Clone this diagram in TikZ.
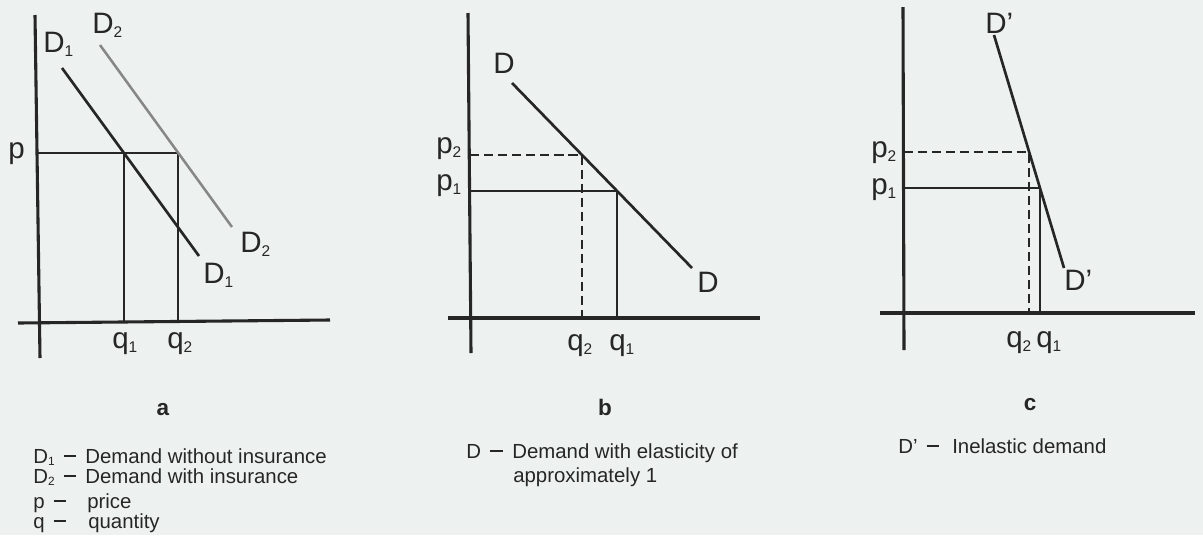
\documentclass[tikz,border=0pt]{standalone}
\usepackage{fontspec}
\setmainfont{Liberation Sans}
\usepackage{tikz}
\usetikzlibrary{positioning}

\definecolor{paper}{RGB}{237,241,240}
\definecolor{ink}{RGB}{38,38,38}
\definecolor{greyline}{RGB}{135,135,135}

\newcommand{\lowsub}[1]{\raisebox{-3pt}{\fontsize{11}{11}\selectfont #1}}
\newcommand{\keysub}[1]{\raisebox{-1.5pt}{\fontsize{8.5}{8.5}\selectfont #1}}
\newcommand{\keydash}{\hspace{0.45em}\rule[0.3em]{9pt}{0.07em}}

\begin{document}
\begin{tikzpicture}[x=0.025cm,y=-0.025cm]

\tikzset{
  axis/.style={draw=ink, line width=2.2pt},
  curve/.style={draw=ink, line width=1.9pt},
  shifted/.style={draw=greyline, line width=1.8pt},
  guide/.style={draw=ink, line width=1.7pt},
  guidedash/.style={draw=ink, line width=1.7pt, dash pattern=on 6.5pt off 3.5pt},
  axlabel/.style={font=\fontsize{21}{23}\selectfont, text=ink, inner sep=0pt, anchor=base west},
  panel/.style={font=\fontsize{16}{18}\selectfont\bfseries, text=ink, inner sep=0pt},
  legend/.style={font=\fontsize{14.5}{17}\selectfont, text=ink, inner sep=0pt, anchor=base west}
}

% Paper
\fill[paper] (0,0) rectangle (1203,535);
\useasboundingbox (0,0) rectangle (1203,535);

% ---------------- Panel a
\coordinate (aTop) at (35,15);
\coordinate (aBot) at (40,358);
\coordinate (aLeft) at (18,323);
\coordinate (aRight) at (330,320);
\coordinate (aP) at (37,153);
\coordinate (aQ1) at (124,153);
\coordinate (aQ2) at (178,153);
\coordinate (aQ1b) at (124,322);
\coordinate (aQ2b) at (178,321);
\coordinate (aD1s) at (62,68);
\coordinate (aD1e) at (199,256);
\coordinate (aD2s) at (100,45);
\coordinate (aD2e) at (232,227);

\draw[axis] (aTop) -- (aBot);
\draw[axis] (aLeft) -- (aRight);
\draw[guide] (aP) -- (aQ2) -- (aQ2b);
\draw[guide] (aQ1) -- (aQ1b);
\draw[shifted] (aD2s) -- (aD2e);
\draw[curve] (aD1s) -- (aD1e);

\node[axlabel] (aPl) at (8,158) {p};
\node[axlabel] (aD1t) at (43,52) {D\lowsub{1}};
\node[axlabel] (aD2t) at (92,33) {D\lowsub{2}};
\node[axlabel] (aD2b) at (240,252) {D\lowsub{2}};
\node[axlabel] (aD1b) at (203,283) {D\lowsub{1}};
\node[axlabel] (aQ1l) at (112,348) {q\lowsub{1}};
\node[axlabel] (aQ2l) at (167,348) {q\lowsub{2}};

% ---------------- Panel b
\coordinate (bTop) at (468,13);
\coordinate (bBot) at (471,353);
\coordinate (bLeft) at (448,318);
\coordinate (bRight) at (760,318);
\coordinate (bP2) at (470,155);
\coordinate (bP1) at (470,191);
\coordinate (bC2) at (582,155);
\coordinate (bC1) at (617,191);
\coordinate (bQ2) at (582,318);
\coordinate (bQ1) at (617,318);
\coordinate (bDs) at (512,83);
\coordinate (bDe) at (692,268);

\draw[axis] (bTop) -- (bBot);
\draw[axis] (bLeft) -- (bRight);
\draw[guidedash] (bP2) -- (bC2) -- (bQ2);
\draw[guide] (bP1) -- (bC1) -- (bQ1);
\draw[curve] (bDs) -- (bDe);

\node[axlabel] (bDt) at (493,73) {D};
\node[axlabel] (bDb) at (697,292) {D};
\node[axlabel] (bP2l) at (436,153) {p\lowsub{2}};
\node[axlabel] (bP1l) at (436,190) {p\lowsub{1}};
\node[axlabel] (bQ2l) at (567,350) {q\lowsub{2}};
\node[axlabel] (bQ1l) at (609,350) {q\lowsub{1}};

% ---------------- Panel c
\coordinate (cTop) at (903,7);
\coordinate (cBot) at (904,350);
\coordinate (cLeft) at (880,313);
\coordinate (cRight) at (1195,313);
\coordinate (cP2) at (904,152);
\coordinate (cP1) at (904,188);
\coordinate (cC2) at (1029,152);
\coordinate (cC1) at (1040,188);
\coordinate (cQ2) at (1029,313);
\coordinate (cQ1) at (1040,313);
\coordinate (cDs) at (994,35);
\coordinate (cDe) at (1064,268);

\draw[axis] (cTop) -- (cBot);
\draw[axis] (cLeft) -- (cRight);
\draw[guidedash] (cP2) -- (cC2) -- (cQ2);
\draw[guide] (cP1) -- (cC1) -- (cQ1);
\draw[curve] (cDs) -- (cDe);

\node[axlabel] (cDt) at (985,33) {D'};
\node[axlabel] (cDb) at (1064,290) {D'};
\node[axlabel] (cP2l) at (871,157) {p\lowsub{2}};
\node[axlabel] (cP1l) at (871,194) {p\lowsub{1}};
\node[axlabel] (cQ2l) at (1006,347) {q\lowsub{2}};
\node[axlabel] (cQ1l) at (1036,347) {q\lowsub{1}};

% Panel letters
\node[panel] (la) at (163,410) {a};
\node[panel] (lb) at (605,407) {b};
\node[panel] (lc) at (1030,405) {c};

% Keys
\node[legend] (kD1) at (33,463) {D\keysub{1}\keydash};
\node[legend] (tD1) at (85,463) {Demand without insurance};
\node[legend] (kD2) at (33,483) {D\keysub{2}\keydash};
\node[legend] (tD2) at (85,483) {Demand with insurance};
\node[legend] (kP) at (33,508) {p\keydash};
\node[legend] (tP) at (87,508) {price};
\node[legend] (kQ) at (33,528) {q\keydash};
\node[legend] (tQ) at (88,528) {quantity};

\node[legend] (kD) at (466,458) {D\keydash};
\node[legend] (tD) at (512,458) {Demand with elasticity of};
\node[legend] (tD3) at (513,482) {approximately 1};

\node[legend] (kDp) at (898,453) {D'\keydash};
\node[legend] (tDp) at (952,453) {Inelastic demand};

\end{tikzpicture}
\end{document}
